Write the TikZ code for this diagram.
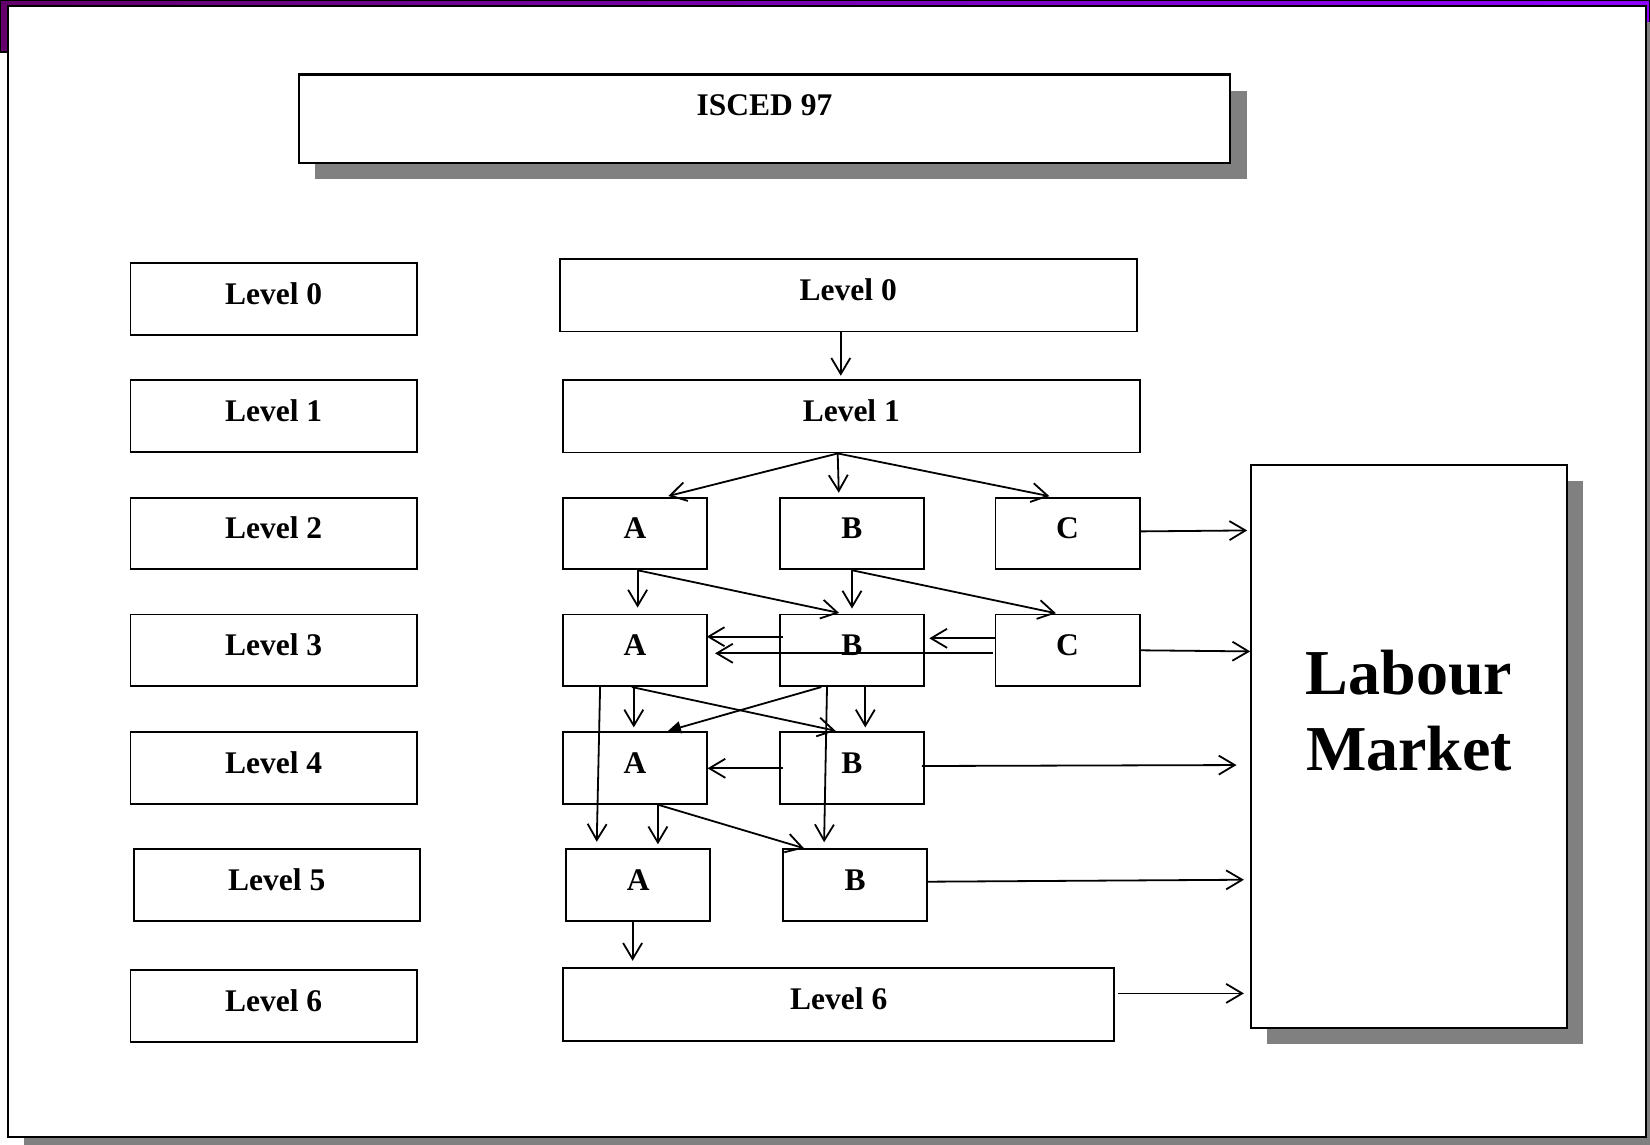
\documentclass[tikz,border=0pt]{standalone}
\usepackage{fontspec}
\setmainfont{Liberation Serif}
\usetikzlibrary{arrows.meta}
\definecolor{purpL}{RGB}{100,0,108}
\definecolor{purpR}{RGB}{142,0,255}
\definecolor{shadowgray}{RGB}{128,128,128}
\begin{document}
\begin{tikzpicture}[x=1pt,y=-1pt,
  box/.style={draw=black, line width=1.9pt, fill=white, rectangle, inner sep=0pt,
    font=\fontsize{31.5}{36}\selectfont\bfseries, text height=20pt, text depth=9.5pt},
  lvl/.style={box, minimum width=286.2pt, minimum height=71.6pt},
  wide/.style={box, minimum width=576.7pt, minimum height=72.6pt},
  small/.style={box, minimum width=144.1pt, minimum height=71.6pt},
  arr/.style={line width=1.8pt, -{Straight Barb[length=16pt,width=19pt]}},
  tri/.style={line width=1.8pt, -{Triangle[length=13pt,width=12pt]}}
]
\useasboundingbox (0,0) rectangle (1650,1145);
% slide background
\fill[white] (0,0) rectangle (1650,1145);
\filldraw[left color=purpL, right color=purpR, draw=black, line width=1.2pt] (0,0) rectangle (1650,52);
\fill[shadowgray] (24,22) rectangle (1666,1157);
\draw[fill=white, line width=2.4pt] (8,6) rectangle (1646,1137);
% shadows
\fill[shadowgray] (315,91) rectangle (1246.5,179.5);
\fill[shadowgray] (1267.2,481.1) rectangle (1582.9,1044.1);
% title
\node[box, line width=2.4pt, minimum width=931.2pt, minimum height=88.4pt, text height=14pt, text depth=20.2pt] (ISCED) at (764.5,118.9) {ISCED 97};
% left column
\node[lvl] (L0) at (273.6,298.85) {Level 0};
\node[lvl] (L1) at (273.6,416.2) {Level 1};
\node[lvl] (L2) at (273.6,533.5) {Level 2};
\node[lvl] (L3) at (273.6,650.3) {Level 3};
\node[lvl] (L4) at (273.6,768.15) {Level 4};
\node[lvl] (L5) at (276.75,885.0) {Level 5};
\node[lvl] (L6) at (273.6,1006.0) {Level 6};
% middle
\node[wide] (M0) at (848.2,295.2) {Level 0};
\node[wide] (M1) at (851.3,416.2) {Level 1};
\node[small] (A2) at (635.05,533.5) {A};
\node[small] (B2) at (851.8,533.5) {B};
\node[small] (C2) at (1067.55,533.5) {C};
\node[small] (A3) at (635.05,650.3) {A};
\node[small] (B3) at (851.8,650.3) {B};
\node[small] (C3) at (1067.55,650.3) {C};
\node[small] (A4) at (635.05,768.15) {A};
\node[small] (B4) at (851.8,768.15) {B};
\node[small] (A5) at (638.2,885.0) {A};
\node[small] (B5) at (855.0,885.0) {B};
\node[wide, minimum width=551.4pt] (M6) at (838.7,1004.4) {Level 6};
% labour market
\node[box, line width=2pt, minimum width=315.7pt, minimum height=563pt] (LM) at (1409.05,746.6) {};
\node[font=\fontsize{64}{75.8}\selectfont\bfseries, align=center, inner sep=0pt] (LMtext) at (1409.05,711) {Labour\\Market};
% connectors
\draw[arr, shorten >=3.2pt] (M0.south -| 840.8,0) -- (M1.north -| 840.8,0);
\draw[arr, shorten >=3pt] (M1.south -| 837.7,0) -- (A2.north -| 665.5,0);
\draw[arr, shorten >=4pt] (M1.south -| 837.7,0) -- (B2.north -| 838.9,0);
\draw[arr, shorten >=3pt] (M1.south -| 837.7,0) -- (C2.north -| 1052.3,0);
\draw[arr, shorten >=3pt] (C2.east |- 0,531.4) -- (LM.west |- 0,530.4);
\draw[arr, shorten >=6pt] (A2.south -| 637.6,0) -- (A3.north -| 637.6,0);
\draw[arr, shorten >=3pt] (A2.south -| 637.6,0) -- (B3.north -| 842,0);
\draw[arr, shorten >=5pt] (B2.south -| 852,0) -- (B3.north -| 852,0);
\draw[arr, shorten >=1.5pt] (B2.south -| 852,0) -- (C3.north -| 1057.4,0);
\draw[arr, shorten <=-4pt, shorten >=-1.3pt] (B3.west |- 0,636.7) -- (A3.east |- 0,636.7);
\draw[arr, shorten >=4.5pt] (C3.west |- 0,638.3) -- (B3.east |- 0,638.3);
\draw[arr, shorten <=2pt, shorten >=7pt] (C3.west |- 0,653.3) -- (A3.east |- 0,653.3);
\draw[arr] (C3.east |- 0,650.3) -- (LM.west |- 0,651.4);
\draw[arr, shorten >=4pt] (A3.south -| 633.8,0) -- (A4.north -| 633.8,0);
\draw[arr, shorten >=3pt] (A3.south -| 631.8,0) -- (B4.north -| 838.5,0);
\draw[tri, shorten >=1.7pt] (B3.south -| 821.3,0) -- (A4.north -| 666.3,0);
\draw[arr, shorten >=4pt] (B3.south -| 865.3,0) -- (B4.north -| 865.3,0);
\draw[arr, shorten >=6.5pt] (A3.south -| 600.1,0) -- (A5.north -| 596.6,0);
\draw[arr, shorten >=6pt] (B3.south -| 827,0) -- (B5.north -| 824,0);
\draw[arr, shorten <=-4pt, shorten >=-0.5pt] (B4.west |- 0,768.3) -- (A4.east |- 0,768.3);
\draw[arr, shorten <=-3pt, shorten >=13.7pt] (B4.east |- 0,766) -- (LM.west |- 0,765);
\draw[arr, shorten >=4pt] (A4.south -| 657.9,0) -- (A5.north -| 657.9,0);
\draw[arr] (A4.south -| 658.6,0) -- (B5.north -| 804,0);
\draw[arr, shorten >=6.3pt] (B5.east |- 0,881.7) -- (LM.west |- 0,879.7);
\draw[arr, shorten >=6.4pt] (A5.south -| 632.6,0) -- (M6.north -| 632.6,0);
\draw[arr, shorten <=3pt, shorten >=6.3pt] (M6.east |- 0,993.4) -- (LM.west |- 0,993.4);
\end{tikzpicture}
\end{document}
